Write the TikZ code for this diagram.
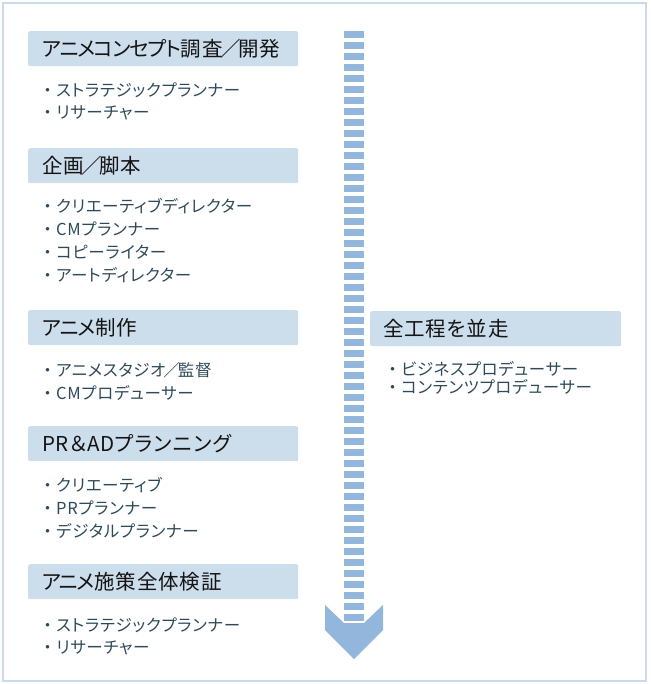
\documentclass[tikz,border=0pt]{standalone}
\usepackage{fontspec}
\setmainfont{Noto Sans CJK JP}[RawFeature=+palt, LetterSpace=4]
\definecolor{frameblue}{HTML}{C8DAEC}
\definecolor{headfill}{HTML}{CCDDEC}
\definecolor{stripeblue}{HTML}{93B6DC}
\definecolor{itemtext}{HTML}{2E4A5A}
\definecolor{headtext}{HTML}{141414}
\newcommand\jslash{\hspace{-0.12em}／\hspace{-0.12em}}
\newcommand\jbul{\makebox[17pt][c]{・}}
\newcommand\kna[2]{{\addfontfeatures{LetterSpace=#1}#2}}
\tikzset{
  headbox/.style={draw=none, fill=headfill, rounded corners=2pt, anchor=north west,
    minimum height=35pt, inner xsep=14pt, inner ysep=0pt, text width=242pt, align=left,
    text=headtext, font=\fontsize{20.5pt}{22pt}\selectfont},
  rightbox/.style={headbox, inner xsep=13pt, text width=225pt},
  itemtxt/.style={anchor=west, inner sep=0pt, text=itemtext, font=\fontsize{16.5pt}{18pt}\selectfont}
}
\begin{document}
\begin{tikzpicture}[x=1pt,y=-1pt]
\useasboundingbox (0,0) rectangle (650,684);
\draw[frameblue, line width=1.5pt] (3,3) rectangle (646,681);
% striped arrow
\foreach \k in {0,...,53}{
  \fill[stripeblue] (344,{31+11*\k}) rectangle (364,{38+11*\k});
}
\fill[stripeblue] (325,605) -- (344,623) -- (364,623) -- (383,605) -- (383,630) -- (354,659) -- (325,630) -- cycle;
% group 1
\node[headbox] (h1) at (28,31) {\kna{-6}{アニメコンセプト}調査\jslash 開発};
\node[itemtxt] (i11) at (39,90) {\jbul ストラテジックプランナー};
\node[itemtxt] (i12) at (39,113) {\jbul リサーチャー};
% group 2
\node[headbox] (h2) at (28,148) {企画\jslash 脚本};
\node[itemtxt] (i21) at (39,206) {\jbul クリエーティブディレクター};
\node[itemtxt] (i22) at (39,229) {\jbul CMプランナー};
\node[itemtxt] (i23) at (39,252) {\jbul コピーライター};
\node[itemtxt] (i24) at (39,275) {\jbul アートディレクター};
% group 3
\node[headbox] (h3) at (28,310) {\kna{-6}{アニメ}制作};
\node[itemtxt] (i31) at (39,370) {\jbul アニメスタジオ\jslash 監督};
\node[itemtxt] (i32) at (39,393) {\jbul CMプロデューサー};
% group 4
\node[headbox] (h4) at (28,426) {PR＆AD\kna{6}{プランニング}};
\node[itemtxt] (i41) at (39,485) {\jbul クリエーティブ};
\node[itemtxt] (i42) at (39,508) {\jbul PRプランナー};
\node[itemtxt] (i43) at (39,531) {\jbul デジタルプランナー};
% group 5
\node[headbox] (h5) at (28,564) {\kna{-8}{アニメ}施策全体検証};
\node[itemtxt] (i51) at (39,625) {\jbul ストラテジックプランナー};
\node[itemtxt] (i52) at (39,648) {\jbul リサーチャー};
% right group
\node[rightbox] (hr) at (370,311) {全工程を並走};
\node[itemtxt] (ir1) at (384,369) {\jbul ビジネスプロデューサー};
\node[itemtxt] (ir2) at (384,387) {\jbul コンテンツプロデューサー};
\end{tikzpicture}
\end{document}
